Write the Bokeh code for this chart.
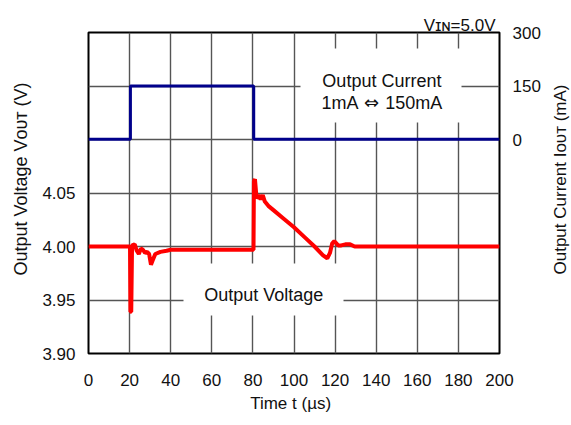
import math
from bokeh.plotting import figure
from bokeh.models import (Range1d, LinearAxis, FixedTicker, Label, BoxAnnotation,
                          NumeralTickFormatter)
from bokeh.embed import file_html
from bokeh.resources import INLINE

# ---------------- data ----------------
time_current = [0, 20.4, 20.4, 80.4, 80.4, 200]
current_mA = [1, 1, 150, 150, 1, 1]

time_voltage = [0, 20.2, 20.4, 20.8, 21.2, 22.5, 23.5, 24.5, 25.5, 26.5, 27.5, 28.5,
                29.5, 30.4, 31.2, 32.5, 35, 38, 40, 60, 80.3, 80.5, 81.0, 81.8, 82.8,
                83.8, 84.8, 85.8, 87.5, 90, 95, 100, 105, 110, 114, 116.2, 117.5,
                118.6, 119.6, 121.5, 123, 125, 127.3, 129.5, 200]
voltage_V = [4.000, 4.000, 3.939, 3.939, 4.001, 4.002, 3.996, 3.993, 3.998, 3.997,
             3.994, 3.995, 3.993, 3.983, 3.987, 3.993, 3.995, 3.996, 3.997, 3.997,
             3.997, 4.061, 4.063, 4.045, 4.048, 4.044, 4.048, 4.042, 4.038, 4.034,
             4.026, 4.018, 4.009, 4.000, 3.992, 3.989, 3.994, 4.003, 4.005, 4.001,
             4.001, 4.002, 4.002, 4.000, 4.000]

x_ticks = [0, 20, 40, 60, 80, 100, 120, 140, 160, 180, 200]
v_ticks = [3.90, 3.95, 4.00, 4.05]
v_grid = [3.90, 3.95, 4.00, 4.05, 4.10, 4.15, 4.20]
i_ticks = [0, 150, 300]

# ---------------- layout ----------------
FL, FT, FW, FH = 88, 32, 411, 321
CW, CH = 571, 425
X0, X1 = 0, 200
Y0, Y1 = 3.90, 4.20
FONT = "Liberation Sans"
TXT = "#111111"

def dx(px):  # canvas px -> data x
    return X0 + (px - FL) * (X1 - X0) / FW

def dy(py):  # canvas px -> data y
    return Y0 + (FT + FH - py) * (Y1 - Y0) / FH

p = figure(frame_width=FW, frame_height=FH, min_border_left=FL, min_border_top=FT,
           min_border_right=CW - FL - FW, min_border_bottom=CH - FT - FH,
           x_range=Range1d(X0, X1), y_range=Range1d(Y0, Y1),
           output_backend="svg", toolbar_location=None)
p.extra_y_ranges = {"cur": Range1d(-600, 300)}

p.outline_line_color = "black"
p.outline_line_width = 2
p.background_fill_color = "white"
p.border_fill_color = "white"

for g in (p.xgrid, p.ygrid):
    g.grid_line_color = "#555555"
    g.grid_line_width = 1.4
p.ygrid.ticker = FixedTicker(ticks=v_grid)

p.xaxis.ticker = FixedTicker(ticks=x_ticks)
p.yaxis.ticker = FixedTicker(ticks=v_ticks)
p.yaxis.formatter = NumeralTickFormatter(format="0.00")

raxis = LinearAxis(y_range_name="cur", ticker=FixedTicker(ticks=i_ticks),
                   formatter=NumeralTickFormatter(format="0"))
p.add_layout(raxis, "right")

for ax in (p.xaxis[0], p.yaxis[0], raxis):
    ax.axis_line_color = None
    ax.major_tick_line_color = None
    ax.minor_tick_line_color = None
    ax.major_tick_out = 0
    ax.major_tick_in = 0
    ax.minor_tick_out = 0
    ax.minor_tick_in = 0
    ax.major_label_text_font = FONT
    ax.major_label_text_font_size = "17px"
    ax.major_label_text_color = TXT
    ax.major_label_standoff = 13
p.xaxis.major_label_standoff = 20

p.line(time_current, current_mA, y_range_name="cur", line_color="#00008B", line_width=3)
p.line(time_voltage, voltage_V, line_color="#FF0000", line_width=4)

# white boxes behind the in-plot captions
p.add_layout(BoxAnnotation(left=dx(300), right=dx(461), top=dy(48), bottom=dy(122),
                           fill_color="white", fill_alpha=1, line_color=None))
p.add_layout(BoxAnnotation(left=dx(183), right=dx(343), top=dy(263), bottom=dy(315),
                           fill_color="white", fill_alpha=1, line_color=None))

def mk(x, y, text, size, align="center", angle=0.0, font=FONT, baseline="alphabetic"):
    return Label(x=x, y=y, text=text, text_font=font, text_font_size=size,
                 text_align=align, text_baseline=baseline, angle=angle,
                 text_color=TXT)

# captions inside the plot
p.add_layout(mk(dx(381.4), dy(80), "Output Current", "18px"))
p.add_layout(mk(dx(321), dy(102), "1mA", "18px", align="left"))
p.add_layout(mk(dx(371), dy(102), "\u21d4", "18px", font="DejaVu Sans"))
p.add_layout(mk(dx(441.7), dy(102), "150mA", "18px", align="right"))
p.add_layout(mk(dx(263.3), dy(294), "Output Voltage", "18px"))

# texts outside the frame live in the side panels (not clipped there)
p.add_layout(mk(dx(292.5), dy(403), "Time t  (\u00b5s)", "17px"), "below")
p.add_layout(mk(dx(495), dy(25), "V\u026a\u0274=5.0V", "17px", align="right"), "above")
p.add_layout(mk(dx(20), dy(178.5), "Output Voltage V\u1d0f\u1d1c\u1d1b (V)", "18px",
                angle=math.pi / 2, baseline="middle"), "left")
p.add_layout(mk(dx(560), dy(179), "Output Current I\u1d0f\u1d1c\u1d1b (mA)", "17px",
                angle=math.pi / 2, baseline="middle"), "right")

open("out.html", "w").write(file_html(p, INLINE))
